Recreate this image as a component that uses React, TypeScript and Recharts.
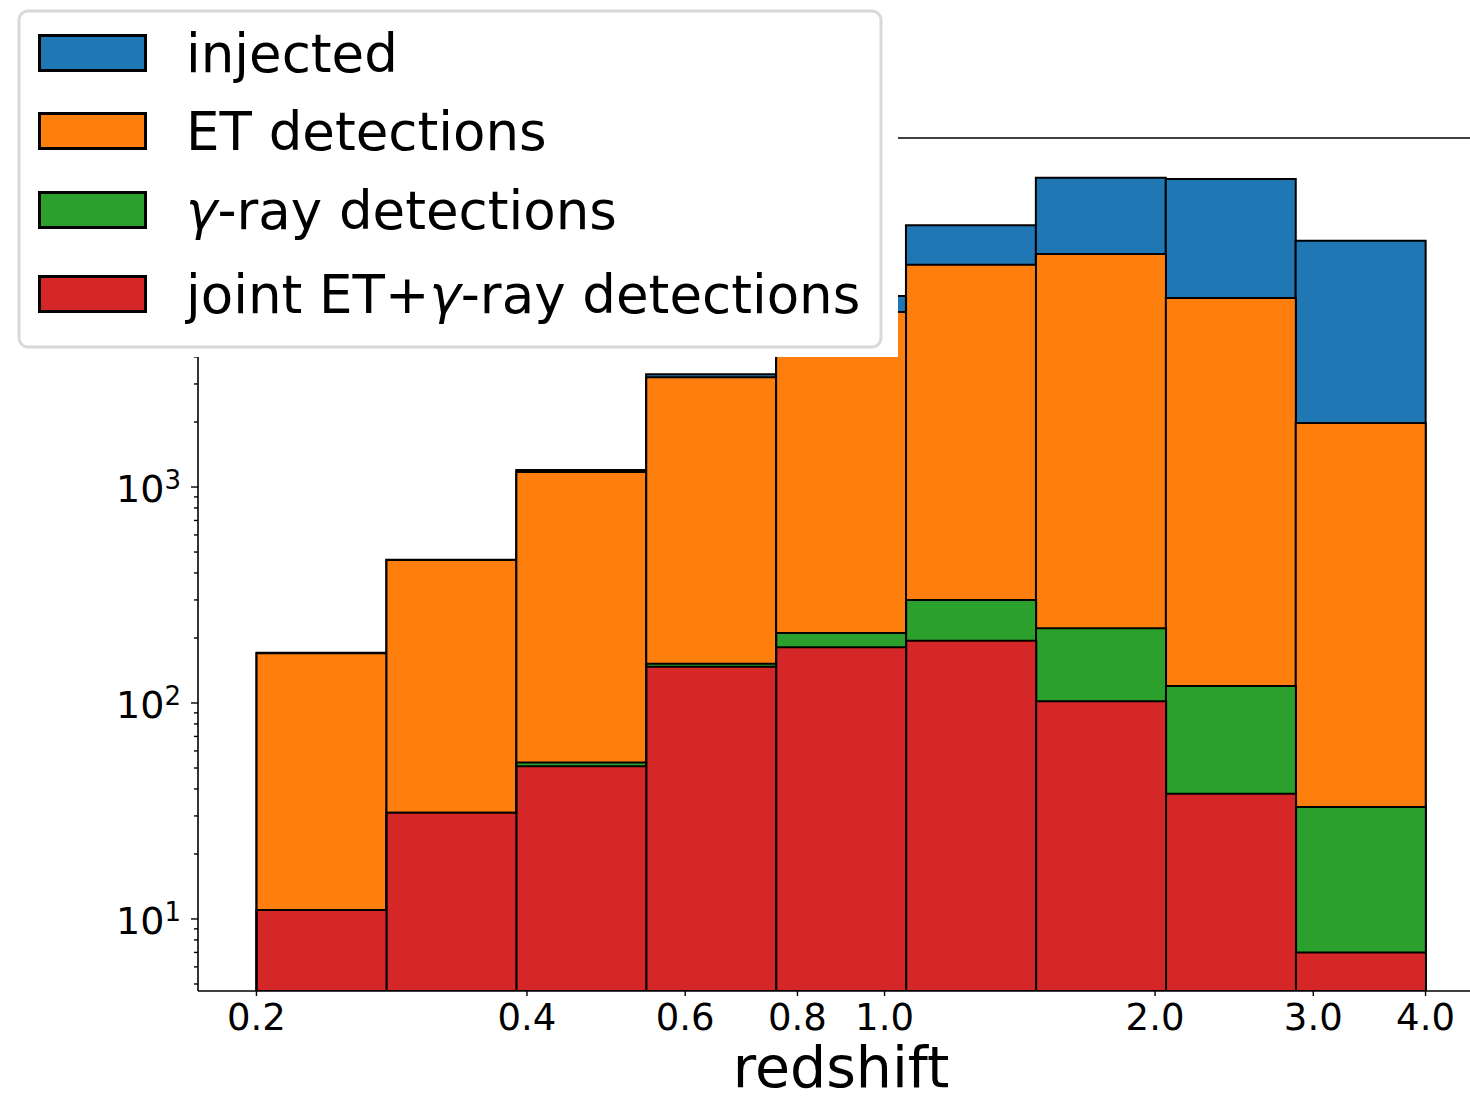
import React from 'react'
import { ComposedChart, Bar, Line, XAxis, YAxis, Legend, ReferenceLine } from 'recharts'

const FONT = "'DejaVu Sans', Verdana, sans-serif"

// histogram bins, log-spaced from z = 0.2 to z = 4.0
const binLabels = ['0.20-0.28', '0.28-0.39', '0.39-0.54', '0.54-0.76', '0.76-1.06', '1.06-1.47', '1.47-2.06', '2.06-2.87', '2.87-4.00']
const binCentres = [0.236, 0.330, 0.460, 0.642, 0.895, 1.248, 1.741, 2.429, 3.388]
const injected = [171, 461, 1200, 3330, 7660, 16300, 27000, 26700, 13800]
const etDetections = [170, 459, 1175, 3225, 6460, 10700, 12000, 7500, 1980]
const gammaDetections = [11, 31, 53, 152, 211, 300, 222, 120, 33]
const jointDetections = [11, 31, 51, 147, 181, 194, 102, 38, 7]

const seriesNames = ['injected', 'ET detections', 'γ-ray detections', 'joint ET+γ-ray detections']
const seriesKeys = ['injected', 'et', 'gamma', 'joint']
const seriesColors = ['#1f77b4', '#ff7f0e', '#2ca02c', '#d62728']

const xTicks = [0.2, 0.4, 0.6, 0.8, 1.0, 2.0, 3.0, 4.0]
const yMajorTicks = [10, 100, 1000, 10000]
const yMinorTicks = [5, 6, 7, 8, 9, 20, 30, 40, 50, 60, 70, 80, 90, 200, 300, 400, 500, 600, 700, 800, 900, 2000, 3000, 4000, 5000, 6000, 7000, 8000, 9000, 20000, 30000, 40000]

const Z_FIRST = 0.2
const Z_LAST = 4.0
const Y_DOMAIN: [number, number] = [4.64, 41300]

// matplotlib style 5% margins in log space
const span = Math.log10(Z_LAST) - Math.log10(Z_FIRST)
const X_DOMAIN: [number, number] = [
  Math.pow(10, Math.log10(Z_FIRST) - 0.05 * span),
  Math.pow(10, Math.log10(Z_LAST) + 0.05 * span),
]

const CHART_W = 1490
const CHART_H = 1096
const MARGIN = { top: 138, right: 6, bottom: 0, left: 0 }
const Y_AXIS_W = 198
const X_AXIS_H = 105
const PLOT_W = CHART_W - MARGIN.left - MARGIN.right - Y_AXIS_W
const BIN_PAD = PLOT_W * 0.05 / 1.1

const data = binLabels.map((bin, i) => ({
  bin,
  zc: binCentres[i],
  injected: injected[i],
  et: etDetections[i],
  gamma: gammaDetections[i],
  joint: jointDetections[i],
}))

function YTick({ x, y, payload }: any) {
  const v = payload.value
  const major = yMajorTicks.includes(v)
  const len = major ? 7 : 4
  return (
    <g>
      <line x1={x - len} x2={x} y1={y} y2={y} stroke="#000" strokeWidth={1.4} />
      {major && (
        <text x={x - 17} y={y + 15} textAnchor="end" fontFamily={FONT} fontSize={38} fill="#000">
          10<tspan dy={-13} fontSize={26}>{Math.round(Math.log10(v))}</tspan>
        </text>
      )}
    </g>
  )
}

function XTick({ x, y, payload }: any) {
  return (
    <g>
      <line x1={x} x2={x} y1={y} y2={y + 5} stroke="#000" strokeWidth={1.4} />
      <text x={x} y={y + 39} textAnchor="middle" fontFamily={FONT} fontSize={37} fill="#000">
        {Number(payload.value).toFixed(1)}
      </text>
    </g>
  )
}

function renderName(name: string) {
  const parts = name.split('γ')
  return parts.map((p, i) => (
    <React.Fragment key={i}>
      {i > 0 && <tspan fontStyle="italic">γ</tspan>}
      {p}
    </React.Fragment>
  ))
}

const rowCenters = [53, 131, 210, 294]

function LegendBox({ payload }: any) {
  const items = seriesNames
    .map((n) => (payload || []).find((a: any) => a.value === n && a.type !== 'none'))
    .filter(Boolean)
  return (
    <svg width={898} height={357} style={{ display: 'block' }}>
      <rect x={0} y={0} width={898} height={357} fill="#fff" />
      <rect x={19} y={11} width={862} height={336} rx={9} fill="#fff" stroke="#d9d9d9" strokeWidth={3} />
      {items.map((it: any, i: number) => (
        <g key={it.value}>
          <rect x={39.5} y={rowCenters[i] - 17.5} width={106} height={35} fill={it.color} stroke="#000" strokeWidth={3} />
          <text x={186} y={rowCenters[i] + 19} fontFamily={FONT} fontSize={53} fill="#000">
            {renderName(it.value)}
          </text>
        </g>
      ))}
    </svg>
  )
}

export default function App() {
  return (
    <div style={{ position: 'absolute', left: 0, top: 0, width: 1470, height: CHART_H, overflow: 'hidden', background: '#fff' }}>
      <ComposedChart
        width={CHART_W}
        height={CHART_H}
        data={data}
        margin={MARGIN}
        barCategoryGap={0}
        barGap="-100%"
      >
        <XAxis
          xAxisId="z"
          dataKey="zc"
          type="number"
          scale="log"
          domain={X_DOMAIN}
          allowDataOverflow
          ticks={xTicks}
          interval={0}
          height={X_AXIS_H}
          tickSize={0}
          tickMargin={0}
          tickLine={false}
          tick={<XTick />}
          axisLine={{ stroke: '#000', strokeWidth: 1.6 }}
          label={{ value: 'redshift', position: 'insideBottom', offset: 9, fill: '#000', fontSize: 57, fontFamily: FONT }}
        />
        <XAxis xAxisId="bins" dataKey="bin" type="category" hide height={0} padding={{ left: BIN_PAD, right: BIN_PAD }} />
        <YAxis
          scale="log"
          type="number"
          domain={Y_DOMAIN}
          allowDataOverflow
          width={Y_AXIS_W}
          ticks={[...yMajorTicks, ...yMinorTicks].sort((a, b) => a - b)}
          interval={0}
          tickSize={0}
          tickMargin={0}
          tickLine={false}
          tick={<YTick />}
          axisLine={{ stroke: '#000', strokeWidth: 1.6 }}
        />
        <ReferenceLine xAxisId="z" y={Y_DOMAIN[1]} stroke="#000" strokeWidth={1.6} ifOverflow="visible" />
        {seriesKeys.map((k, i) => (
          <Bar
            key={k}
            xAxisId="bins"
            dataKey={k}
            name={seriesNames[i]}
            fill={seriesColors[i]}
            stroke="#000"
            strokeWidth={2}
            isAnimationActive={false}
          />
        ))}
        {/* invisible helper so the redshift axis has data bound to it */}
        <Line
          xAxisId="z"
          dataKey="injected"
          name="axis-helper"
          stroke="none"
          dot={false}
          activeDot={false}
          legendType="none"
          isAnimationActive={false}
        />
        <Legend
          layout="vertical"
          align="center"
          verticalAlign="middle"
          content={<LegendBox />}
          wrapperStyle={{ left: 0, top: 0, width: 898, height: 357 }}
        />
      </ComposedChart>
    </div>
  )
}
